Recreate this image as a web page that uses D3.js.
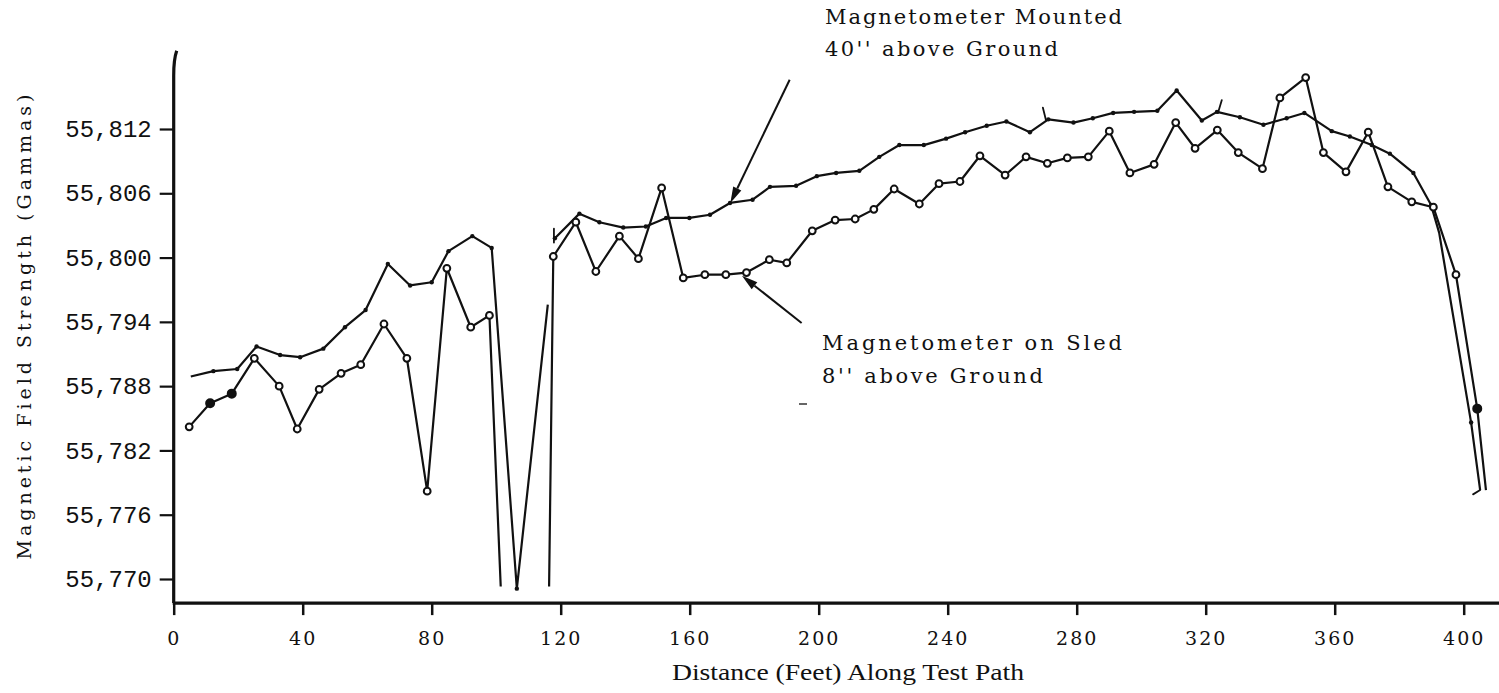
<!DOCTYPE html>
<html>
<head><meta charset="utf-8">
<style>
  body { margin: 0; background: #fff; }
  svg { display: block; }
  .ylab text { font-family: "Liberation Mono", "Courier New", monospace; font-size: 24px; fill: #111; }
  .xlab text { font-family: "DejaVu Serif", serif; font-size: 19px; letter-spacing: 2px; fill: #111; }
  .note { font-family: "DejaVu Serif", serif; font-size: 21px; fill: #111; }
  .title { font-family: "Liberation Serif", "Times New Roman", serif; font-size: 24px; fill: #111; }
  .ytitle { font-family: "DejaVu Serif", serif; font-size: 19px; fill: #111; }
</style>
</head>
<body>
<script src="https://d3js.org/d3.v7.min.js"></script>
<script>
var width = 1499, height = 693;

// sled magnetometer, 8" above ground (open circles)
var sledFeet = [4.8, 11.3, 18.0, 25.0, 32.7, 38.3, 45.1, 51.9, 58.0, 65.2, 72.3, 78.6, 84.7, 92.1, 97.9, 101.4,
  null, 116.4, 117.7, 124.7, 130.9, 138.2, 144.1, 151.3, 158.0, 164.7, 171.2, 177.6, 184.7, 190.1, 198.0,
  205.1, 211.3, 217.1, 223.4, 231.2, 237.3, 243.8, 250.0, 257.8, 264.3, 270.9, 277.1, 283.6, 290.1, 296.5,
  304.0, 310.7, 316.7, 323.6, 330.1, 337.6, 343.0, 351.0, 356.5, 363.5, 370.4, 376.5, 383.9, 390.6, 397.6,
  404.2, 406.9];
var sledGammas = [55784.2, 55786.4, 55787.3, 55790.6, 55788.0, 55784.0, 55787.7, 55789.2, 55790.0, 55793.8,
  55790.6, 55778.2, 55799.0, 55793.5, 55794.6, 55769.3, null, 55769.3, 55800.1, 55803.3, 55798.7, 55802.0,
  55799.9, 55806.5, 55798.1, 55798.4, 55798.4, 55798.6, 55799.8, 55799.5, 55802.5, 55803.5, 55803.6, 55804.5,
  55806.4, 55805.0, 55806.9, 55807.1, 55809.5, 55807.7, 55809.4, 55808.8, 55809.3, 55809.4, 55811.8, 55807.9,
  55808.7, 55812.6, 55810.2, 55811.9, 55809.8, 55808.3, 55814.9, 55816.8, 55809.8, 55808.0, 55811.7, 55806.6,
  55805.2, 55804.7, 55798.4, 55785.9, 55778.3];
var sledFilled = [1, 2, 61];      // points drawn as solid dots
var sledBare = [15, 16, 17, 62];  // line ends, no marker

// mounted magnetometer, 40" above ground (small dots)
var mountFeet = [5.3, 12.3, 19.7, 25.7, 33.0, 39.2, 46.4, 53.1, 59.5, 66.4, 73.3, 80.0, 85.2, 92.6, 98.6, 106.4,
  116.0, null, 118.2, 125.8, 132.0, 139.4, 146.4, 152.7, 159.9, 166.3, 172.5, 179.5, 184.9, 193.0, 199.4, 205.4,
  212.6, 218.8, 225.0, 232.6, 239.5, 245.4, 252.1, 258.2, 265.5, 271.2, 279.0, 285.0, 291.3, 297.8, 305.0, 311.0,
  318.8, 323.5, 330.6, 337.9, 345.1, 350.6, 359.1, 364.7, 371.5, 377.1, 384.4, 389.9, 392.4, 402.3, 405.1];
var mountGammas = [55788.9, 55789.4, 55789.6, 55791.7, 55790.9, 55790.7, 55791.5, 55793.5, 55795.1, 55799.4,
  55797.4, 55797.7, 55800.6, 55802.0, 55800.9, 55769.1, 55795.6, null, 55801.8, 55804.1, 55803.3, 55802.8,
  55802.9, 55803.7, 55803.7, 55804.0, 55805.1, 55805.4, 55806.6, 55806.7, 55807.6, 55807.9, 55808.1, 55809.4,
  55810.5, 55810.5, 55811.1, 55811.7, 55812.3, 55812.7, 55811.7, 55812.9, 55812.6, 55813.0, 55813.5, 55813.6,
  55813.7, 55815.6, 55812.8, 55813.6, 55813.1, 55812.4, 55813.0, 55813.5, 55811.8, 55811.3, 55810.5, 55809.7,
  55807.9, 55804.9, 55802.3, 55784.6, 55778.3];
var mountBare = [0, 16, 60, 62];

// little pen flicks on the mounted trace: [feet1, gammas1, feet2, gammas2]
var penFlicks = [[117.9, 55802.7, 117.9, 55801.4], [269.5, 55814.0, 270.5, 55812.8],
  [325.0, 55814.7, 323.8, 55813.5], [405.1, 55778.3, 402.9, 55777.9]];

var xTicks = [0, 40, 80, 120, 160, 200, 240, 280, 320, 360, 400];
var yTicks = [55770, 55776, 55782, 55788, 55794, 55800, 55806, 55812];
var yTickLabels = ["55,770", "55,776", "55,782", "55,788", "55,794", "55,800", "55,806", "55,812"];

// arrow annotations: [tailFeet, tailGammas, tipFeet, tipGammas]
var mountArrow = [191.0, 55816.6, 172.6, 55805.1];
var sledArrow = [194.7, 55793.9, 176.2, 55798.3];

var x = d3.scaleLinear().domain([0, 400]).range([173.7, 1463.7]);
var y = d3.scaleLinear().domain([55770, 55812]).range([579, 129]);

var svg = d3.select("body").append("svg")
    .attr("width", width)
    .attr("height", height);

// axes
var yAxis = svg.append("g")
    .attr("class", "ylab")
    .attr("transform", "translate(" + x(0) + ",0)")
    .call(d3.axisLeft(y).tickValues(yTicks).tickSize(14).tickPadding(8)
      .tickFormat(function(d) { return yTickLabels[yTicks.indexOf(d)]; }));
yAxis.select(".domain").remove();
yAxis.selectAll("line").attr("stroke", "#111").attr("stroke-width", 2.2);

var xAxis = svg.append("g")
    .attr("class", "xlab")
    .attr("transform", "translate(0," + y(55767.75) + ")")
    .call(d3.axisBottom(x).tickValues(xTicks).tickSize(12).tickPadding(16));
xAxis.select(".domain").remove();
xAxis.selectAll("line").attr("stroke", "#111").attr("stroke-width", 2.5);

// axis lines, drawn heavy like ink
svg.append("path")
    .attr("d", "M" + x(0) + "," + y(55767.75) + "L" + x(0) + "," + y(55817) +
      "Q" + x(0) + "," + y(55818.5) + " " + (x(0) + 3) + "," + y(55819.3))
    .attr("fill", "none").attr("stroke", "#111").attr("stroke-width", 3.2);
svg.append("line")
    .attr("x1", x(0) - 1).attr("x2", x(411))
    .attr("y1", y(55767.75)).attr("y2", y(55767.75))
    .attr("stroke", "#111").attr("stroke-width", 3.2);

// series
function pts(feet, vals) {
  return feet.map(function(f, i) { return {f: f, v: vals[i], i: i}; });
}
var sled = pts(sledFeet, sledGammas);
var mount = pts(mountFeet, mountGammas);

var line = d3.line()
    .defined(function(d) { return d.v !== null; })
    .x(function(d) { return x(d.f); })
    .y(function(d) { return y(d.v); });

svg.append("path").datum(mount)
    .attr("d", line)
    .attr("fill", "none").attr("stroke", "#111").attr("stroke-width", 2.2)
    .attr("stroke-linejoin", "round");
svg.append("path").datum(sled)
    .attr("d", line)
    .attr("fill", "none").attr("stroke", "#111").attr("stroke-width", 2.2)
    .attr("stroke-linejoin", "round");

svg.append("g").selectAll("line")
    .data(penFlicks)
    .enter().append("line")
    .attr("x1", function(d) { return x(d[0]); })
    .attr("y1", function(d) { return y(d[1]); })
    .attr("x2", function(d) { return x(d[2]); })
    .attr("y2", function(d) { return y(d[3]); })
    .attr("stroke", "#111").attr("stroke-width", 1.8).attr("stroke-linecap", "round");

svg.append("g").selectAll("circle")
    .data(mount.filter(function(d) { return d.v !== null && mountBare.indexOf(d.i) < 0; }))
    .enter().append("circle")
    .attr("cx", function(d) { return x(d.f); })
    .attr("cy", function(d) { return y(d.v); })
    .attr("r", 2.2)
    .attr("fill", "#111");

svg.append("g").selectAll("circle")
    .data(sled.filter(function(d) { return d.v !== null && sledBare.indexOf(d.i) < 0; }))
    .enter().append("circle")
    .attr("cx", function(d) { return x(d.f); })
    .attr("cy", function(d) { return y(d.v); })
    .attr("r", function(d) { return sledFilled.indexOf(d.i) >= 0 ? 4 : 3.4; })
    .attr("fill", function(d) { return sledFilled.indexOf(d.i) >= 0 ? "#111" : "#fff"; })
    .attr("stroke", "#111").attr("stroke-width", 2);

// arrows
function arrow(a) {
  var x1 = x(a[0]), y1 = y(a[1]), x2 = x(a[2]), y2 = y(a[3]);
  var ang = Math.atan2(y2 - y1, x2 - x1), len = 16, w = 4.5;
  var bx = x2 - len * Math.cos(ang), by = y2 - len * Math.sin(ang);
  svg.append("line")
      .attr("x1", x1).attr("y1", y1).attr("x2", bx).attr("y2", by)
      .attr("stroke", "#111").attr("stroke-width", 2);
  svg.append("path")
      .attr("d", "M" + x2 + "," + y2 +
        "L" + (bx + w * Math.sin(ang)) + "," + (by - w * Math.cos(ang)) +
        "L" + (bx - w * Math.sin(ang)) + "," + (by + w * Math.cos(ang)) + "Z")
      .attr("fill", "#111");
}
arrow(mountArrow);
arrow(sledArrow);

// labels
function note(txt, px, py, len) {
  svg.append("text").attr("class", "note")
      .attr("x", px).attr("y", py)
      .attr("textLength", len).attr("lengthAdjust", "spacing")
      .text(txt);
}
note("Magnetometer Mounted", 825, 24, 297);
note("40'' above Ground", 825, 56, 233);
note("Magnetometer on Sled", 822, 350, 300);
note("8'' above Ground", 822, 383, 221);

svg.append("text").attr("class", "title")
    .attr("x", 848).attr("y", 680)
    .attr("text-anchor", "middle")
    .attr("textLength", 352).attr("lengthAdjust", "spacingAndGlyphs")
    .text("Distance (Feet) Along Test Path");

svg.append("text").attr("class", "ytitle")
    .attr("transform", "translate(31,327) rotate(-90)")
    .attr("text-anchor", "middle")
    .attr("textLength", 465).attr("lengthAdjust", "spacing")
    .text("Magnetic Field Strength (Gammas)");

// stray pen mark on the original sheet
svg.append("line").attr("x1", 799).attr("x2", 807).attr("y1", 404).attr("y2", 404)
    .attr("stroke", "#333").attr("stroke-width", 1.5);
</script>
</body>
</html>
